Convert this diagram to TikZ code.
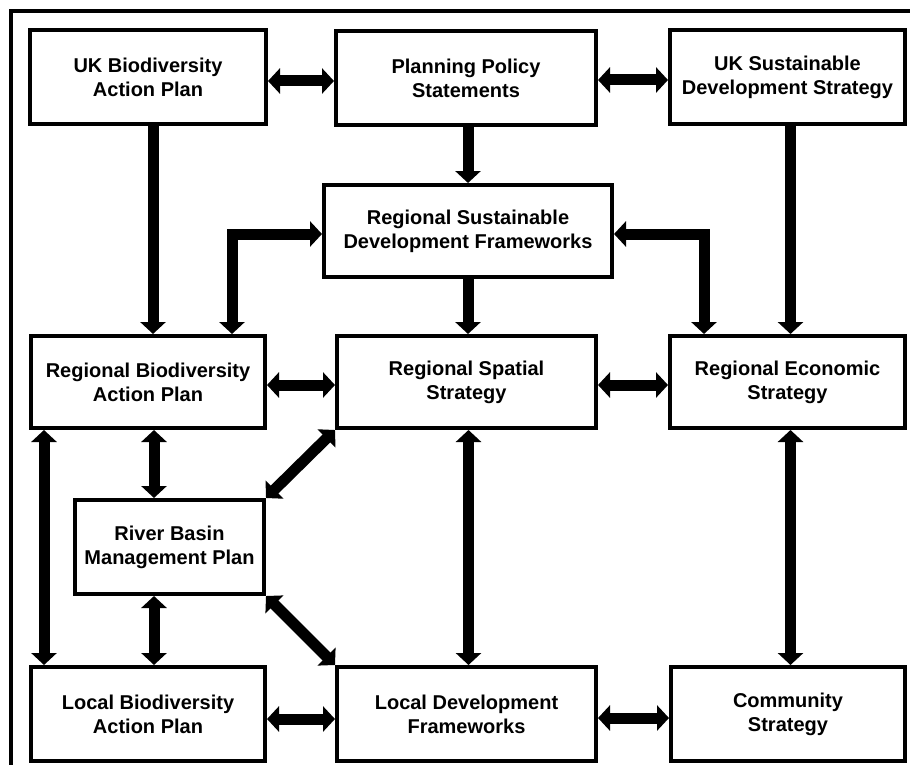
\documentclass[tikz,border=0pt]{standalone}
\usepackage{fontspec}
\setmainfont{Liberation Sans}
\usetikzlibrary{arrows.meta}
\begin{document}
\begin{tikzpicture}[x=1pt,y=-1pt,
  box/.style={draw=black, line width=4pt, fill=white, align=center, inner sep=0pt,
              font=\bfseries\fontsize{20}{24}\selectfont},
  tip/.tip={Triangle[width=25pt,length=12pt]},
  link/.style={line width=11pt, -tip},
  dlink/.style={line width=11pt, tip-tip},
]
\useasboundingbox (0,0) rectangle (910,765);
\fill[white] (0,0) rectangle (910,765);
% outer frame (top and left edges)
\draw[line width=3.5pt] (11,765) -- (11,11) -- (910,11);

% national level
\node[box, minimum width=236pt, minimum height=94pt] (ukbap) at (148,77) {UK Biodiversity\\Action Plan};
\node[box, minimum width=260pt, minimum height=94pt] (pps) at (466,78) {Planning Policy\\Statements};
\node[box, minimum width=235pt, minimum height=94pt] (uksds) at (787.5,77) {UK Sustainable\\Development Strategy};

% regional level
\node[box, minimum width=288pt, minimum height=92pt] (rsdf) at (468,231) {Regional Sustainable\\Development Frameworks};
\node[box, minimum width=234pt, minimum height=92pt] (rbap) at (148,382) {Regional Biodiversity\\Action Plan};
\node[box, minimum width=259pt, minimum height=92pt] (rss) at (466.5,382) {Regional Spatial\\Strategy};
\node[box, minimum width=235pt, minimum height=92pt] (res) at (787.5,382) {Regional Economic\\Strategy};
\node[box, minimum width=189pt, minimum height=94pt] (rbmp) at (169.5,547) {River Basin\\Management Plan};

% local level
\node[box, minimum width=234pt, minimum height=94pt] (lbap) at (148,714) {Local Biodiversity\\Action Plan};
\node[box, minimum width=259pt, minimum height=94pt] (ldf) at (466.5,714) {Local Development\\Frameworks};
\node[box, minimum width=234pt, minimum height=94pt] (cs) at (788,714) {Community\\Strategy};

% links between national documents
\draw[dlink] ([yshift=-4pt]ukbap.east) -- ([yshift=-3pt]pps.west);
\draw[dlink] ([yshift=-2pt]pps.east) -- ([yshift=-3pt]uksds.west);

% national to regional
\draw[link] ([xshift=5pt]ukbap.south) -- ([xshift=5pt]rbap.north);
\draw[link] ([xshift=2pt]pps.south) -- (rsdf.north);
\draw[link] ([xshift=3pt]uksds.south) -- ([xshift=3pt]res.north);

% regional frameworks
\draw[dlink] ([yshift=-3pt]rsdf.west) -| ([xshift=84pt]rbap.north);
\draw[dlink] ([yshift=-3pt]rsdf.east) -| ([xshift=-83.5pt]res.north);
\draw[link] (rsdf.south) -- ([xshift=1.5pt]rss.north);
\draw[dlink] ([yshift=-3pt]rbap.east) -- ([yshift=-3pt]rss.west);
\draw[dlink] ([yshift=-3pt]rss.east) -- ([yshift=-3pt]res.west);

% regional to river basin and local
\draw[dlink] ([xshift=-104pt]rbap.south) -- ([xshift=-104pt]lbap.north);
\draw[dlink] ([xshift=6pt]rbap.south) -- ([xshift=-15.5pt]rbmp.north);
\draw[dlink] ([xshift=-15.5pt]rbmp.south) -- ([xshift=6pt]lbap.north);
\draw[dlink] (rss.south west) -- (rbmp.north east);
\draw[dlink] (rbmp.south east) -- (ldf.north west);
\draw[dlink] ([xshift=2pt]rss.south) -- ([xshift=2pt]ldf.north);
\draw[dlink] ([xshift=3pt]res.south) -- ([xshift=2.5pt]cs.north);

% local links
\draw[dlink] ([yshift=-5pt]lbap.east) -- ([yshift=-5pt]ldf.west);
\draw[dlink] ([yshift=-4pt]ldf.east) -- ([yshift=-4pt]cs.west);
\end{tikzpicture}
\end{document}
